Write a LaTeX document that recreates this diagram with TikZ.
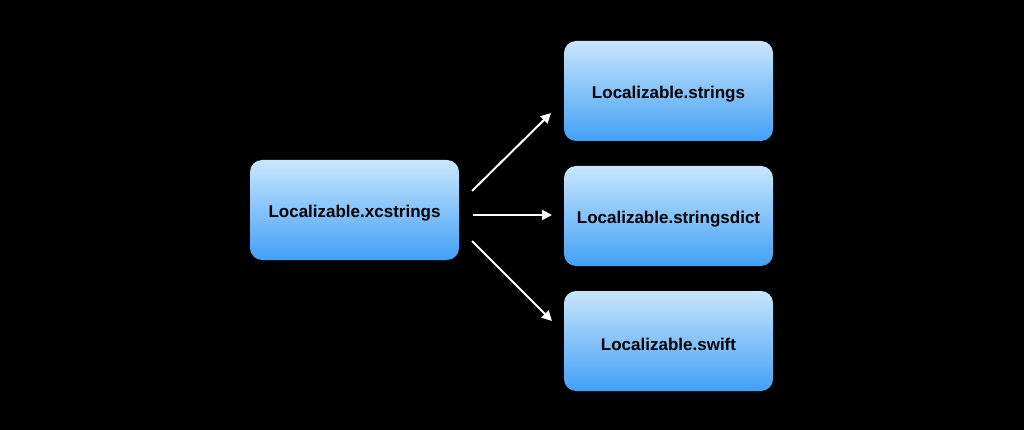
\documentclass[tikz,border=0pt]{standalone}
\usepackage{fontspec}
\setmainfont{Liberation Sans}
\usetikzlibrary{arrows.meta}
\definecolor{boxtop}{HTML}{C8E6FC}
\definecolor{boxbot}{HTML}{42A0F6}
\tikzset{
  filebox/.style={rounded corners=12pt, top color=boxtop, bottom color=boxbot,
    minimum width=209pt, minimum height=100pt, inner sep=0pt,
    font=\fontsize{17}{20}\selectfont\bfseries, text=black, draw=none},
  flow/.style={draw=white, line width=2pt, -{Triangle[length=10pt,width=10pt]}}
}
\newcommand{\lowered}[1]{\raisebox{-3pt}[\height][\depth]{#1}}
\begin{document}
\begin{tikzpicture}[x=1pt,y=-1pt]
\useasboundingbox[fill=black] (0,0) rectangle (1024,430);
\node[filebox] (src) at (354.5,210) {\lowered{Localizable.xcstrings}};
\node[filebox] (strings) at (668.5,91) {\lowered{Localizable.strings}};
\node[filebox] (dict) at (668.5,216) {\lowered{Localizable.stringsdict}};
\node[filebox] (swift) at (668.5,341) {\lowered{Localizable.swift}};
\coordinate (a1s) at (472,191);
\coordinate (a1e) at (551,113);
\coordinate (a2s) at (473,215);
\coordinate (a2e) at (552,215);
\coordinate (a3s) at (472,241);
\coordinate (a3e) at (552,321);
\draw[flow] (a1s) -- (a1e);
\draw[flow] (a2s) -- (a2e);
\draw[flow] (a3s) -- (a3e);
\end{tikzpicture}
\end{document}
